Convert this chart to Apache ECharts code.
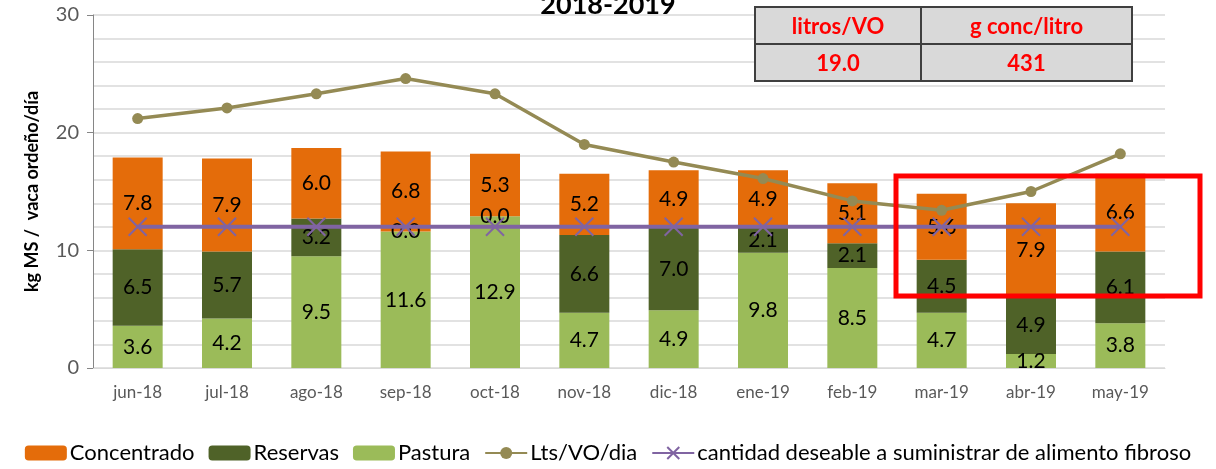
<!DOCTYPE html>
<html>
<head>
<meta charset="utf-8">
<script src="https://cdn.jsdelivr.net/npm/echarts@6/dist/echarts.min.js"></script>
<style>
  html, body { margin: 0; padding: 0; background: #fff; }
  #chart { width: 1216px; height: 469px; }
</style>
</head>
<body>
<div id="chart"></div>
<script>
const months = ['jun-18', 'jul-18', 'ago-18', 'sep-18', 'oct-18', 'nov-18', 'dic-18', 'ene-19', 'feb-19', 'mar-19', 'abr-19', 'may-19']
const pastura = [3.6, 4.2, 9.5, 11.6, 12.9, 4.7, 4.9, 9.8, 8.5, 4.7, 1.2, 3.8]
const reservas = [6.5, 5.7, 3.2, 0.0, 0.0, 6.6, 7.0, 2.1, 2.1, 4.5, 4.9, 6.1]
const concentrado = [7.8, 7.9, 6.0, 6.8, 5.3, 5.2, 4.9, 4.9, 5.1, 5.6, 7.9, 6.6]
const litros = [21.2, 22.1, 23.3, 24.6, 23.3, 19.0, 17.5, 16.1, 14.2, 13.4, 15.0, 18.2]
const deseable = [12, 12, 12, 12, 12, 12, 12, 12, 12, 12, 12, 12]
const tableHeaders = ['litros/VO', 'g conc/litro']
const tableValues = ['19.0', '431']

const font = 'Lato, "Open Sans", sans-serif'
const crossPath = 'path://M0,0L10,10M10,0L0,10'

const barLabel = {
    show: true,
    position: 'inside',
    color: '#000',
    fontSize: 21,
    fontFamily: font,
    formatter: (p) => p.value.toFixed(1)
}

function barSeries(name, data, color){
    return {
        name,
        type: 'bar',
        stack: 'ms',
        data,
        barWidth: 50,
        itemStyle: { color },
        label: barLabel,
        emphasis: { disabled: true }
    }
}

// tabla de indicadores arriba a la derecha
function tableGraphic(){
    const x0 = 755, y0 = 7, h = 37
    const widths = [166, 211]
    const rects = []
    const texts = []
    let x = x0
    for(let c = 0; c < 2; c++){
        const rows = [tableHeaders[c], tableValues[c]]
        for(let r = 0; r < 2; r++){
            rects.push({
                type: 'rect',
                shape: { x, y: y0 + r * h, width: widths[c], height: h },
                style: { fill: '#d9d9d9', stroke: '#3f3f3f', lineWidth: 2 },
                z: 10
            })
            texts.push({
                type: 'text',
                x: x + widths[c] / 2,
                y: y0 + r * h + h / 2 + 1,
                style: {
                    text: rows[r],
                    fill: '#ff0000',
                    font: 'bold 22px ' + font,
                    align: 'center',
                    verticalAlign: 'middle'
                },
                z: 11
            })
        }
        x += widths[c]
    }
    return rects.concat(texts)
}

const chart = echarts.init(document.getElementById('chart'))
const option = {
    animation: false,
    textStyle: { fontFamily: font },
    title: {
        text: '2018-2019',
        left: 'center',
        top: -13,
        textStyle: { fontSize: 27, fontWeight: 'bold', color: '#000', fontFamily: font }
    },
    grid: { left: 93, right: 51, top: 15, bottom: 101 },
    legend: {
        bottom: 0,
        left: 'center',
        itemGap: 14,
        itemWidth: 42,
        itemHeight: 15,
        textStyle: { fontSize: 22, color: '#000', fontFamily: font, padding: [0, 0, 0, -2] },
        data: ['Concentrado', 'Reservas', 'Pastura', 'Lts/VO/dia', 'cantidad deseable a suministrar de alimento fibroso']
    },
    xAxis: {
        type: 'category',
        data: months,
        axisTick: { show: false },
        axisLine: { lineStyle: { color: '#d9d9d9' } },
        axisLabel: { color: '#595959', fontSize: 17, margin: 16 }
    },
    yAxis: {
        type: 'value',
        min: 0,
        max: 30,
        interval: 10,
        name: 'kg MS /  vaca ordeño/día',
        nameLocation: 'middle',
        nameGap: 52,
        nameTextStyle: { fontSize: 18, fontWeight: 'bold', color: '#000' },
        axisLine: { show: true, lineStyle: { color: '#868686' } },
        axisTick: { show: true, length: 6, lineStyle: { color: '#868686' } },
        axisLabel: { color: '#595959', fontSize: 20, margin: 14 },
        splitLine: { lineStyle: { color: '#d9d9d9', width: 1.5 } },
        minorTick: { show: false, splitNumber: 5 },
        minorSplitLine: { show: true, lineStyle: { color: '#d9d9d9', width: 1.5 } }
    },
    series: [
        barSeries('Pastura', pastura, '#9bbb59'),
        barSeries('Reservas', reservas, '#4f6228'),
        barSeries('Concentrado', concentrado, '#e46c0a'),
        {
            name: 'Lts/VO/dia',
            type: 'line',
            data: litros,
            symbol: 'circle',
            symbolSize: 11,
            lineStyle: { color: '#948a54', width: 3.5 },
            itemStyle: { color: '#948a54' },
            z: 5
        },
        {
            name: 'cantidad deseable a suministrar de alimento fibroso',
            type: 'line',
            data: deseable,
            symbol: crossPath,
            symbolSize: 18,
            lineStyle: { color: '#8064a2', width: 4 },
            itemStyle: { color: '#8064a2', borderColor: '#8064a2', borderWidth: 2 },
            z: 4
        }
    ],
    graphic: [
        ...tableGraphic(),
        {
            type: 'rect',
            shape: { x: 896, y: 176, width: 304, height: 120 },
            style: { fill: 'none', stroke: '#ff0000', lineWidth: 5 },
            z: 100
        }
    ]
}
chart.setOption(option)
</script>
</body>
</html>
